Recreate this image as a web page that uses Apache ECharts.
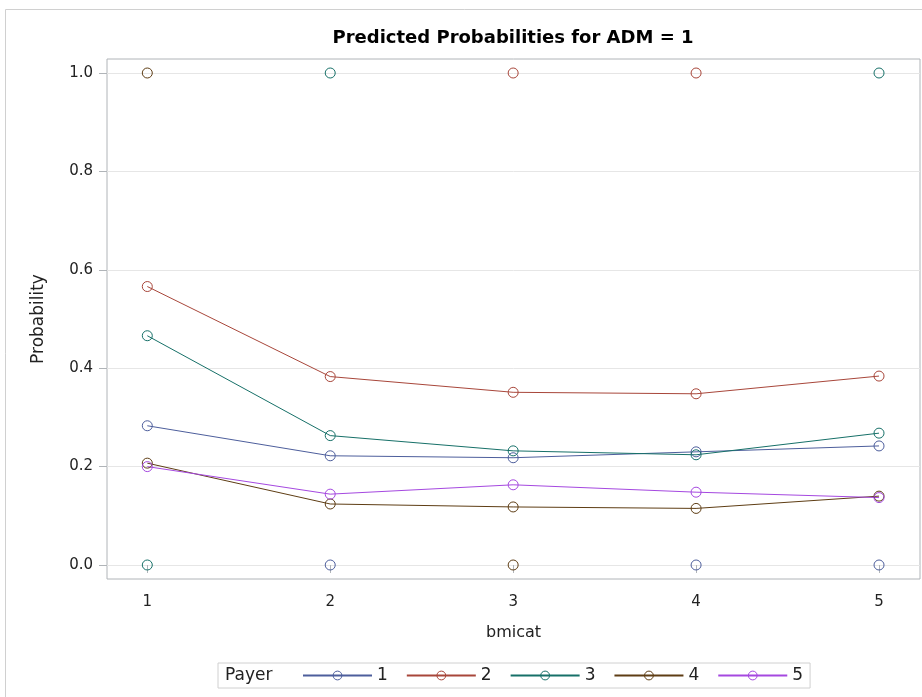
<!DOCTYPE html>
<html>
<head>
<meta charset="utf-8">
<title>Predicted Probabilities for ADM = 1</title>
<script src="https://cdn.jsdelivr.net/npm/echarts@6/dist/echarts.min.js"></script>
<style>
  html, body { margin: 0; padding: 0; background: #fff; }
  #chart { width: 922px; height: 697px; }
</style>
</head>
<body>
<div id="chart"></div>
<script>
// bmicat categories and y tick labels
const bmicat = [1, 2, 3, 4, 5];
const yTicks = [0, 0.2, 0.4, 0.6, 0.8, 1.0];
const payers = ['1', '2', '3', '4', '5'];

// predicted probabilities per payer
const pred1 = [0.283, 0.222, 0.218, 0.230, 0.242];
const pred2 = [0.566, 0.383, 0.351, 0.348, 0.384];
const pred3 = [0.466, 0.263, 0.232, 0.224, 0.268];
const pred4 = [0.207, 0.124, 0.118, 0.115, 0.140];
const pred5 = [0.200, 0.144, 0.163, 0.148, 0.137];

// observed responses (0/1), [bmicat, value]
const obs1 = [[2, 0], [4, 0], [5, 0]];
const obs2 = [[3, 1], [4, 1]];
const obs3 = [[1, 0], [2, 1], [5, 1]];
const obs4 = [[1, 1], [3, 0]];
const obs5 = [];

const colors = ['#4d5e9c', '#a8463a', '#167068', '#5e3d14', '#a548e0'];
const preds = [pred1, pred2, pred3, pred4, pred5];
const obs = [obs1, obs2, obs3, obs4, obs5];
const font = 'DejaVu Sans';

const chart = echarts.init(document.getElementById('chart'));

let series = [];
payers.forEach(function (p, i) {
  series.push({
    name: p,
    type: 'line',
    data: bmicat.map(function (x, j) { return [x, preds[i][j]]; }),
    symbol: 'circle',
    symbolSize: 10,
    color: colors[i],
    lineStyle: { width: 1, color: colors[i] },
    // hollow marker, line shows through like the original
    itemStyle: { color: 'rgba(255,255,255,0)', borderColor: colors[i], borderWidth: 1 },
    emphasis: { disabled: true },
    animation: false
  });
});
payers.forEach(function (p, i) {
  series.push({
    name: 'obs ' + p,
    type: 'scatter',
    data: obs[i],
    symbol: 'circle',
    symbolSize: 10,
    itemStyle: { color: 'rgba(255,255,255,0)', borderColor: colors[i], borderWidth: 1, opacity: 1 },
    emphasis: { disabled: true },
    clip: false,
    animation: false
  });
});

const option = {
  backgroundColor: '#fff',
  title: {
    text: 'Predicted Probabilities for ADM = 1',
    left: 513,
    textAlign: 'center',
    top: 29,
    padding: 0,
    textStyle: { fontFamily: font, fontSize: 18, fontWeight: 'bold', color: '#000' }
  },
  legend: {
    data: payers,
    left: 218,
    top: 663,
    orient: 'horizontal',
    padding: [4, 7, 4, 84],
    itemWidth: 69,
    itemHeight: 11,
    itemGap: 18,
    itemStyle: { borderWidth: 1 },
    borderColor: '#d0d0d0',
    borderWidth: 1,
    textStyle: { fontFamily: font, fontSize: 17, color: '#222' }
  },
  graphic: [
    {
      type: 'rect',
      shape: { x: 5.5, y: 9.5, width: 950, height: 720 },
      style: { fill: 'none', stroke: '#d0d0d0', lineWidth: 1 },
      silent: true
    },
    {
      type: 'text',
      x: 225,
      y: 676,
      style: {
        text: 'Payer',
        fontFamily: font,
        fontSize: 17,
        fill: '#222',
        verticalAlign: 'middle'
      },
      silent: true
    }
  ],
  grid: {
    left: 107,
    top: 59,
    right: 2,
    bottom: 118,
    show: true,
    borderColor: '#b0b4b8',
    borderWidth: 1
  },
  xAxis: {
    type: 'value',
    min: 0.7797,
    max: 5.224,
    name: 'bmicat',
    nameLocation: 'middle',
    nameGap: 46,
    nameTextStyle: { fontFamily: font, fontSize: 16, color: '#222' },
    axisLine: { show: false },
    axisTick: { show: true, length: 8, lineStyle: { color: '#b0b4b8' }, customValues: bmicat },
    axisLabel: { fontFamily: font, fontSize: 15, color: '#222', margin: 16, customValues: bmicat },
    splitLine: { show: false }
  },
  yAxis: {
    type: 'value',
    min: -0.02846,
    max: 1.02846,
    name: 'Probability',
    nameLocation: 'middle',
    nameGap: 60,
    nameTextStyle: { fontFamily: font, fontSize: 17, color: '#222' },
    axisLine: { show: false },
    axisTick: { show: true, length: 8, lineStyle: { color: '#b0b4b8' }, customValues: yTicks },
    axisLabel: {
      fontFamily: font, fontSize: 15, color: '#222', margin: 14,
      customValues: yTicks,
      formatter: function (v) { return v.toFixed(1); }
    },
    splitLine: { show: true, lineStyle: { color: '#e6e6e6', width: 1 } }
  },
  series: series
};

chart.setOption(option);
</script>
</body>
</html>
